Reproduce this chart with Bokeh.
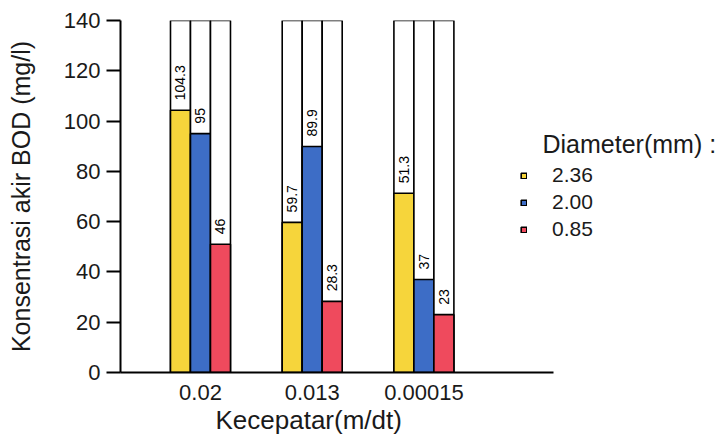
import math
from bokeh.plotting import figure
from bokeh.models import Range1d, FixedTicker, Legend, LegendItem, Label, Title
from bokeh.embed import file_html
from bokeh.resources import INLINE
from bokeh.core.properties import value

# ---- data ----
speeds = ["0.02", "0.013", "0.00015"]          # Kecepatan (m/dt)
diameters = ["2.36", "2.00", "0.85"]           # Diameter (mm)
bod_236 = [104.3, 59.7, 71.3]                  # drawn bar heights
bod_200 = [95.0, 89.9, 37.0]
bod_085 = [51.0, 28.3, 23.0]
label_236 = ["104.3", "59.7", "51.3"]          # printed value labels
label_200 = ["95", "89.9", "37"]
label_085 = ["46", "28.3", "23"]
y_ticks = [0, 20, 40, 60, 80, 100, 120, 140]

series_vals = [bod_236, bod_200, bod_085]
series_labels = [label_236, label_200, label_085]
colors = ["#F6D53B", "#3D6DC6", "#EF4A5D"]
FONT = "Liberation Sans"
TXT = "#1a1a1a"

bar_w = 0.179
group_x = [i + 1 for i in range(len(speeds))]
axis_span = (0.284, 4.16)

p = figure(width=722, height=436,
           x_range=Range1d(axis_span[0], 5.673), y_range=Range1d(0, y_ticks[-1]),
           output_backend="svg", toolbar_location=None,
           min_border_left=120, min_border_right=0,
           min_border_top=20, min_border_bottom=64)
p.outline_line_color = None
p.xgrid.grid_line_color = None
p.ygrid.grid_line_color = None
p.background_fill_color = "white"
p.border_fill_color = "white"

items = []
for j, (vals, labs) in enumerate(zip(series_vals, series_labels)):
    xs = [g + (j - 1) * bar_w for g in group_x]
    p.vbar(x=xs, top=[y_ticks[-1]] * len(xs), width=bar_w, bottom=0,
           fill_color="white", line_color="black", line_width=1.6)
    r = p.vbar(x=xs, top=vals, width=bar_w, bottom=0,
               fill_color=colors[j], line_color="black", line_width=1.6)
    items.append(LegendItem(label=diameters[j], renderers=[r]))
    p.text(x=xs, y=vals, text=labs, angle=math.pi / 2,
           text_align="left", text_baseline="middle", y_offset=-10,
           text_font=value(FONT), text_font_size="14px", text_color="black")

# y axis
p.yaxis.ticker = FixedTicker(ticks=y_ticks)
p.yaxis.minor_tick_line_color = None
p.yaxis.major_tick_in = 0
p.yaxis.major_tick_out = 14
p.yaxis.major_tick_line_width = 2
p.yaxis.axis_line_width = 2
p.yaxis.major_label_text_font = FONT
p.yaxis.major_label_text_font_size = "22px"
p.yaxis.major_label_text_color = TXT
p.yaxis.major_label_standoff = 6
p.yaxis.axis_label = "Konsentrasi akir BOD (mg/l)"
p.yaxis.axis_label_text_font = FONT
p.yaxis.axis_label_text_font_size = "25px"
p.yaxis.axis_label_text_font_style = "normal"
p.yaxis.axis_label_text_color = TXT
p.yaxis.axis_label_standoff = 26

# x axis (line stops short of the legend area)
p.xaxis.bounds = axis_span
p.xaxis.ticker = FixedTicker(ticks=group_x)
p.xaxis.major_label_overrides = {g: s for g, s in zip(group_x, speeds)}
p.xaxis.minor_tick_line_color = None
p.xaxis.major_tick_line_color = None
p.xaxis.major_tick_in = 0
p.xaxis.major_tick_out = 0
p.xaxis.axis_line_width = 2
p.xaxis.major_label_text_font = FONT
p.xaxis.major_label_text_font_size = "22px"
p.xaxis.major_label_text_color = TXT
p.xaxis.major_label_standoff = 12

p.add_layout(Title(text="Kecepatar(m/dt)", align="left", offset=95,
                   text_font=FONT, text_font_size="26px",
                   text_font_style="normal", text_color=TXT,
                   standoff=0), "below")

legend = Legend(items=items, location=(400, 131),
                glyph_width=7, glyph_height=7, label_standoff=25,
                label_text_font=FONT, label_text_font_size="21px",
                label_text_color=TXT, label_height=20, spacing=3,
                padding=0, margin=0, border_line_color=None,
                background_fill_alpha=0)
p.add_layout(legend)

p.add_layout(Label(x=422, y=229, x_units="screen", y_units="screen",
                   text="Diameter(mm) :", text_font=FONT,
                   text_font_size="25px", text_baseline="middle",
                   text_color=TXT))

open("out.html", "w").write(file_html(p, INLINE))
